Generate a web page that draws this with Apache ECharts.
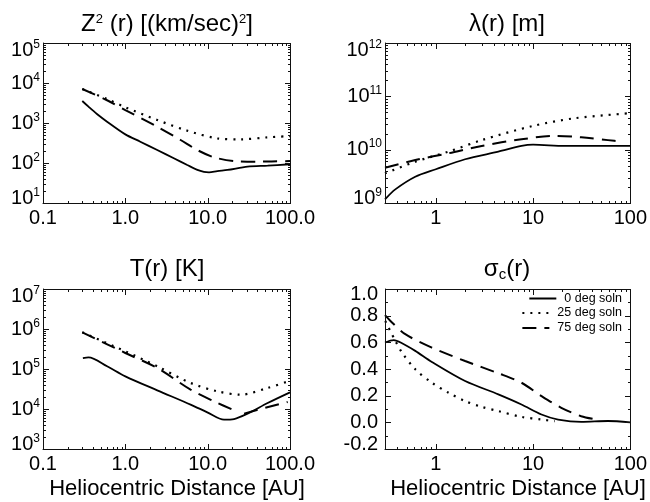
<!DOCTYPE html>
<html><head><meta charset="utf-8">
<script src="https://cdn.jsdelivr.net/npm/echarts@6/dist/echarts.min.js"></script>
<style>html,body{margin:0;padding:0;background:#fff}#c{width:650px;height:502px}</style>
</head><body><div id="c"></div>
<script>
const FONT = '"Liberation Sans", Arial, Helvetica, sans-serif';
const SERIES_NAMES = ['0 deg soln', '25 deg soln', '75 deg soln'];

// Panel 1: Z^2(r) [(km/sec)^2]
const Z2_R_0 = [0.3, 0.357, 0.452, 0.6, 1.0, 1.52, 2.44, 3.88, 5.65, 7.5, 9.0, 10.4, 13.1, 17.4, 30.5, 53.5, 100];
const Z2_V_0 = [3550, 2560, 1680, 1080, 520, 341, 211, 131, 89, 67, 60, 58.5, 63, 67, 81, 86, 93];
const Z2_R_25 = [0.3, 0.6, 1.0, 2.44, 5.65, 13.1, 25.2, 53.5, 100];
const Z2_V_25 = [7080, 3980, 2480, 1190, 643, 414, 391, 438, 470];
const Z2_R_75 = [0.3, 0.6, 1.0, 2.44, 4.69, 7.48, 11.9, 20.9, 40.4, 100];
const Z2_V_75 = [7080, 3700, 2110, 809, 376, 211, 139, 112, 108, 112];

// Panel 2: lambda(r) [m]
const LAM_R_0 = [0.3, 0.383, 0.614, 1.0, 2.0, 4.39, 7.6, 10, 21.1, 46.4, 100];
const LAM_V_0 = [1.17e9, 1.80e9, 3.11e9, 4.29e9, 6.61e9, 9.18e9, 1.175e10, 1.24e10, 1.175e10, 1.175e10, 1.175e10];
const LAM_R_25 = [0.3, 0.614, 1.35, 2.96, 10, 26.8, 100];
const LAM_V_25 = [3.6e9, 5.94e9, 9.18e9, 1.51e10, 2.79e10, 3.89e10, 4.83e10];
const LAM_R_75 = [0.3, 0.614, 1.35, 2.96, 7.6, 16.7, 31.3, 58.8, 83.7];
const LAM_V_75 = [4.59e9, 6.4e9, 8.55e9, 1.175e10, 1.567e10, 1.81e10, 1.71e10, 1.51e10, 1.40e10];

// Panel 3: T(r) [K]
const T_R_0 = [0.305, 0.357, 0.6, 1.0, 2.44, 6.2, 9.9, 15.8, 20.9, 30.5, 53.5, 100];
const T_V_0 = [1.88e5, 1.95e5, 1.17e5, 6.56e4, 2.93e4, 1.29e4, 8260, 5410, 5620, 7670, 1.41e4, 2.61e4];
const T_R_25 = [0.3, 1.0, 2.44, 6.2, 13.1, 25.2, 53.5, 100];
const T_V_25 = [8.26e5, 2.77e5, 1.17e5, 4.47e4, 2.77e4, 2.28e4, 3.35e4, 5.1e4];
const T_R_75 = [0.3, 1.0, 2.44, 6.2, 11.9, 20.9, 25, 27.7, 50, 93.7];
const T_V_75 = [8.26e5, 2.51e5, 1.06e5, 3.04e4, 1.56e4, 9270, null, 7670, 1.07e4, 1.5e4];

// Panel 4: sigma_c(r)
const SIG_R_0 = [0.3, 0.369, 0.449, 0.614, 0.91, 2.0, 4.39, 7.6, 12.2, 18.1, 31.3, 58.8, 100];
const SIG_V_0 = [0.598, 0.616, 0.593, 0.536, 0.453, 0.31, 0.21, 0.134, 0.059, 0.021, 0.003, 0.01, 0.0];
const SIG_R_25 = [0.302, 0.383, 0.449, 0.614, 0.91, 1.35, 2.0, 2.96, 4.39, 7.6, 12.2, 16.7];
const SIG_V_25 = [0.76, 0.611, 0.523, 0.398, 0.297, 0.222, 0.159, 0.116, 0.084, 0.041, 0.021, 0.009];
const SIG_R_75 = [0.3, 0.354, 0.485, 0.91, 2.0, 4.39, 7.6, 12.2, 19.5, 31.3, 41.3];
const SIG_V_75 = [0.804, 0.749, 0.661, 0.56, 0.46, 0.368, 0.297, 0.197, 0.109, 0.046, 0.026];

// Tick labels
const X_TICKS_A = [0.1, 1, 10, 100];
const X_LABELS_A = ['0.1', '1.0', '10.0', '100.0'];
const X_TICKS_B = [1, 10, 100];
const X_LABELS_B = ['1', '10', '100'];

function zip(r, v) { return r.map((x, i) => [x, v[i] == null ? '-' : v[i]]); }
function lookup(ticks, labels) {
  return (v) => { const i = ticks.findIndex(t => Math.abs(Math.log10(t / v)) < 1e-6); return i < 0 ? '' : labels[i]; };
}
function logMajors(lo, hi) {
  const o = []; for (let e = Math.ceil(Math.log10(lo) - 1e-9); e <= Math.floor(Math.log10(hi) + 1e-9); e++) o.push(Math.pow(10, e)); return o;
}
function logMinors(lo, hi) {
  const o = [];
  for (let e = Math.floor(Math.log10(lo) + 1e-9); e <= Math.floor(Math.log10(hi) + 1e-9); e++)
    for (let k = 2; k <= 9; k++) { const v = k * Math.pow(10, e); if (v > lo * (1 + 1e-9) && v < hi * (1 - 1e-9)) o.push(v); }
  return o;
}
function linMajors(lo, hi, step) { const o = []; const n = Math.round((hi - lo) / step); for (let i = 0; i <= n; i++) o.push(lo + i * step); return o; }
function linMinors(lo, hi, step) { const o = []; const n = Math.round((hi - lo) / step); for (let i = 0; i < n; i++) o.push(lo + (i + 0.5) * step); return o; }

const PANELS = [
  { grid: { left: 43, top: 43, width: 247, height: 160 }, xMin: 0.1, xMax: 100, xFmt: lookup(X_TICKS_A, X_LABELS_A),
    yLog: true, yMin: 1e1, yMax: 1e5, data: [[Z2_R_0, Z2_V_0], [Z2_R_25, Z2_V_25], [Z2_R_75, Z2_V_75]] },
  { grid: { left: 385, top: 43, width: 247, height: 160 }, xMin: 0.3, xMax: 100, xFmt: lookup(X_TICKS_B, X_LABELS_B),
    yLog: true, yMin: 1e9, yMax: 1e12, data: [[LAM_R_0, LAM_V_0], [LAM_R_25, LAM_V_25], [LAM_R_75, LAM_V_75]] },
  { grid: { left: 43, top: 289, width: 247, height: 160 }, xMin: 0.1, xMax: 100, xFmt: lookup(X_TICKS_A, X_LABELS_A),
    yLog: true, yMin: 1e3, yMax: 1e7, data: [[T_R_0, T_V_0], [T_R_25, T_V_25], [T_R_75, T_V_75]] },
  { grid: { left: 385, top: 289, width: 247, height: 160 }, xMin: 0.3, xMax: 100, xFmt: lookup(X_TICKS_B, X_LABELS_B),
    yLog: false, yMin: -0.2, yMax: 1.0, yInterval: 0.2, data: [[SIG_R_0, SIG_V_0], [SIG_R_25, SIG_V_25], [SIG_R_75, SIG_V_75]] }
];
const LINE_STYLES = [{ type: 'solid', width: 1.8 }, { type: [2, 6], width: 2.2 }, { type: [14, 8], width: 2 }];
const AXCOL = '#111';
const MAJOR_LEN = 6, MINOR_LEN = 3;

const RICH_LOG = {
  b: { fontSize: 20, fontFamily: FONT, color: '#000' },
  s: { fontSize: 12, fontFamily: FONT, color: '#000', padding: [0, 0, 11, 0] },
  bt: { fontSize: 20, fontFamily: FONT, color: '#000', padding: [14, 0, 0, 0] },
  st: { fontSize: 12, fontFamily: FONT, color: '#000', padding: [3, 0, 0, 0] },
  bb: { fontSize: 20, fontFamily: FONT, color: '#000', padding: [0, 0, 10, 0] },
  sb: { fontSize: 12, fontFamily: FONT, color: '#000', padding: [0, 0, 21, 0] }
};
const RICH_LIN = {
  n: { fontSize: 20, fontFamily: FONT, color: '#000' },
  t: { fontSize: 20, fontFamily: FONT, color: '#000', padding: [10, 0, 0, 0] },
  u: { fontSize: 20, fontFamily: FONT, color: '#000', padding: [0, 0, 10, 0] }
};

const grids = [], xAxes = [], yAxes = [], series = [], firstSeries = [];
PANELS.forEach((p, g) => {
  grids.push(Object.assign({}, p.grid));
  const xIdx = xAxes.length;
  xAxes.push({ type: 'log', gridIndex: g, position: 'bottom', min: p.xMin, max: p.xMax,
    axisLine: { show: true, onZero: false, lineStyle: { color: AXCOL, width: 1 } },
    axisTick: { show: false }, minorTick: { show: false }, splitLine: { show: false },
    axisLabel: { show: true, margin: 5, color: '#000', fontSize: 20, fontFamily: FONT, formatter: p.xFmt } });
  const yIdx = yAxes.length;
  if (p.yLog) {
    const eMin = Math.round(Math.log10(p.yMin)), eMax = Math.round(Math.log10(p.yMax));
    yAxes.push({ type: 'log', gridIndex: g, position: 'left', min: p.yMin, max: p.yMax,
      axisLine: { show: true, onZero: false, lineStyle: { color: AXCOL, width: 1 } },
      axisTick: { show: false }, minorTick: { show: false }, splitLine: { show: false },
      axisLabel: { show: true, margin: 3,
        formatter: (v) => { const e = Math.round(Math.log10(v));
          if (e === eMax) return '{bt|10}{st|' + e + '}'; if (e === eMin) return '{bb|10}{sb|' + e + '}'; return '{b|10}{s|' + e + '}'; },
        rich: RICH_LOG } });
  } else {
    yAxes.push({ type: 'value', gridIndex: g, position: 'left', min: p.yMin, max: p.yMax, interval: p.yInterval,
      axisLine: { show: true, onZero: false, lineStyle: { color: AXCOL, width: 1 } },
      axisTick: { show: false }, minorTick: { show: false }, splitLine: { show: false },
      axisLabel: { show: true, margin: 7,
        formatter: (v) => { if (Math.abs(v - p.yMax) < 1e-6) return '{t|' + v.toFixed(1) + '}';
          if (Math.abs(v - p.yMin) < 1e-6) return '{u|' + v.toFixed(1) + '}'; return '{n|' + v.toFixed(1) + '}'; },
        rich: RICH_LIN } });
  }
  firstSeries.push(series.length);
  p.data.forEach((d, k) => {
    series.push({ type: 'line', name: SERIES_NAMES[k], xAxisIndex: xIdx, yAxisIndex: yIdx, data: zip(d[0], d[1]),
      showSymbol: false, symbol: 'none', smooth: 0.3, lineStyle: Object.assign({ color: '#000' }, LINE_STYLES[k]), itemStyle: { color: '#000' } });
  });
});

const TITLE_RICH = {
  t: { fontSize: 24, fontFamily: FONT, color: '#000' },
  p: { fontSize: 13, fontFamily: FONT, color: '#000', padding: [0, 0, 10, 0] },
  c: { fontSize: 15, fontFamily: FONT, color: '#000', padding: [12, 0, 0, 0] }
};
function txt(x, y, text, size) {
  const st = { text: text, fill: '#000', fontSize: size || 24, fontFamily: FONT, align: 'center', verticalAlign: 'middle' };
  if (text.indexOf('{') >= 0) st.rich = TITLE_RICH;
  return { type: 'text', x: x, y: y, silent: true, style: st };
}
const graphic = [
  txt(167, 24, '{t|Z}{p|2}{t| (r) [(km/sec)}{p|2}{t|]}'), txt(507, 24, '{t|λ(r) [m]}'),
  txt(167, 269, '{t|T(r) [K]}'), txt(507, 269, '{t|σ}{c|c}{t|(r)}'),
  txt(177, 489, 'Heliocentric Distance [AU]', 22), txt(518, 489, 'Heliocentric Distance [AU]', 22)
];
const LEGEND_TOPS = [291.5, 306, 321];
const legend = SERIES_NAMES.map((n, i) => ({
  data: [n], right: 28, top: LEGEND_TOPS[i], orient: 'vertical', padding: 0, itemWidth: 27, itemHeight: 10, itemGap: 0,
  selectedMode: false, itemStyle: { opacity: 0 },
  textStyle: { fontSize: 12.5, fontFamily: FONT, color: '#000', lineHeight: 14, padding: [0, 0, 0, 3] }
}));

const chart = echarts.init(document.getElementById('c'));
chart.setOption({ backgroundColor: '#fff', animation: false, grid: grids, xAxis: xAxes, yAxis: yAxes, series: series, legend: legend, graphic: graphic });

// Frame and tick marks on all four sides, placed through each panel's own scales (convertToPixel)
function bar(x, y, w, h) {
  return { type: 'rect', silent: true, z: 100, zlevel: 0, shape: { x: x, y: y, width: w, height: h }, style: { fill: AXCOL } };
}
const frame = [];
PANELS.forEach((p, g) => {
  const f = { seriesIndex: firstSeries[g] };
  const c0 = chart.convertToPixel(f, [p.xMin, p.yMin]);
  const c1 = chart.convertToPixel(f, [p.xMax, p.yMax]);
  if (!c0 || !c1) return;
  const L = Math.round(c0[0]), B = Math.round(c0[1]), R = Math.round(c1[0]), T = Math.round(c1[1]);
  frame.push(bar(L, T, R - L + 1, 1), bar(L, B, R - L + 1, 1), bar(L, T, 1, B - T + 1), bar(R, T, 1, B - T + 1));
  const xMaj = logMajors(p.xMin, p.xMax), xMin = logMinors(p.xMin, p.xMax);
  const yMaj = p.yLog ? logMajors(p.yMin, p.yMax) : linMajors(p.yMin, p.yMax, p.yInterval);
  const yMin = p.yLog ? logMinors(p.yMin, p.yMax) : linMinors(p.yMin, p.yMax, p.yInterval);
  const xt = (v, len) => { const px = Math.round(chart.convertToPixel(f, [v, p.yMin])[0]);
    frame.push(bar(px, B - len + 1, 1, len), bar(px, T, 1, len)); };
  const yt = (v, len) => { const py = Math.round(chart.convertToPixel(f, [p.xMin, v])[1]);
    frame.push(bar(L, py, len, 1), bar(R - len + 1, py, len, 1)); };
  xMaj.forEach(v => xt(v, MAJOR_LEN)); xMin.forEach(v => xt(v, MINOR_LEN));
  yMaj.forEach(v => yt(v, MAJOR_LEN)); yMin.forEach(v => yt(v, MINOR_LEN));
});
chart.setOption({ graphic: graphic.concat(frame) });
</script></body></html>
